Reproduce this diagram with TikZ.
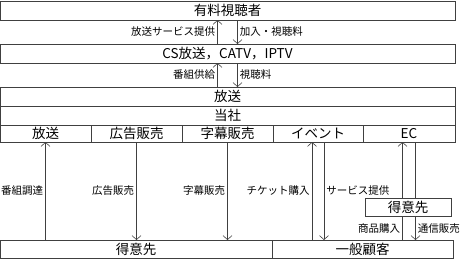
\documentclass[tikz,border=0pt]{standalone}
\usepackage{fontspec}
\setmainfont{Noto Sans CJK JP}
\usetikzlibrary{arrows.meta}
\tikzset{
  bar/.style={draw=black!75, fill=white, line width=0.6pt, inner sep=0pt, outer sep=0pt,
    anchor=north west, minimum height=19pt, font=\fontsize{13.5}{14}\selectfont},
  lbl/.style={font=\fontsize{10.5}{11}\selectfont, inner sep=2pt},
  flow/.style={draw=black!75, line width=0.6pt, -{Straight Barb[length=4pt,width=9pt]}}
}
\begin{document}
\begin{tikzpicture}[x=1pt, y=-1pt]
    \useasboundingbox (0,0) rectangle (460,260);
    % viewers and platforms
    \node[bar, minimum width=455pt] (viewer) at (0,1) {有料視聴者};
    \node[bar, minimum width=455pt] (cs) at (0,44) {CS放送，CATV，IPTV};
    \draw[flow] ([xshift=-10pt]cs.north) -- node[lbl, left]{放送サービス提供} ([xshift=-10pt]viewer.south);
    \draw[flow] ([xshift=10pt]viewer.south) -- node[lbl, right]{加入・視聴料} ([xshift=10pt]cs.north);
    % company
    \node[bar, minimum width=455pt] (bcast) at (0,87) {放送};
    \node[bar, minimum width=455pt] (firm) at (0,106) {当社};
    \node[bar, minimum width=91pt, minimum height=17pt] (col1) at (0,125) {放送};
    \node[bar, minimum width=91pt, minimum height=17pt] (col2) at (91,125) {広告販売};
    \node[bar, minimum width=91pt, minimum height=17pt] (col3) at (182,125) {字幕販売};
    \node[bar, minimum width=90pt, minimum height=17pt] (col4) at (273,125) {イベント};
    \node[bar, minimum width=92pt, minimum height=17pt] (col5) at (363,125) {EC};
    \draw[flow] ([xshift=-10pt]bcast.north) -- node[lbl, left]{番組供給} ([xshift=-10pt]cs.south);
    \draw[flow] ([xshift=10pt]cs.south) -- node[lbl, right]{視聴料} ([xshift=10pt]bcast.north);
    % customers
    \node[bar, minimum width=272pt, minimum height=18pt] (client) at (0,240) {得意先};
    \node[bar, minimum width=181pt, minimum height=18pt] (customer) at (272,240) {一般顧客};
    \draw[flow] (col1.south |- client.north) -- node[lbl, left]{番組調達} (col1.south);
    \draw[flow] (col2.south) -- node[lbl, left]{広告販売} (col2.south |- client.north);
    \draw[flow] (col3.south) -- node[lbl, left]{字幕販売} (col3.south |- client.north);
    \draw[flow] ([xshift=-6pt]col4.south |- customer.north) -- node[lbl, left]{チケット購入} ([xshift=-6pt]col4.south);
    \draw[flow] ([xshift=6pt]col4.south) -- node[lbl, right]{サービス提供} ([xshift=6pt]col4.south |- customer.north);
    \draw[flow] ([xshift=-6.5pt]col5.south |- customer.north) -- node[lbl, left, pos=0.12]{商品購入} ([xshift=-6.5pt]col5.south);
    \draw[flow] ([xshift=6.5pt]col5.south) -- node[lbl, right, pos=0.88]{通信販売} ([xshift=6.5pt]col5.south |- customer.north);
    % EC agent
    \node[bar, minimum width=86pt, minimum height=18pt] (agent) at (365,198) {得意先};
  \end{tikzpicture}
\end{document}
